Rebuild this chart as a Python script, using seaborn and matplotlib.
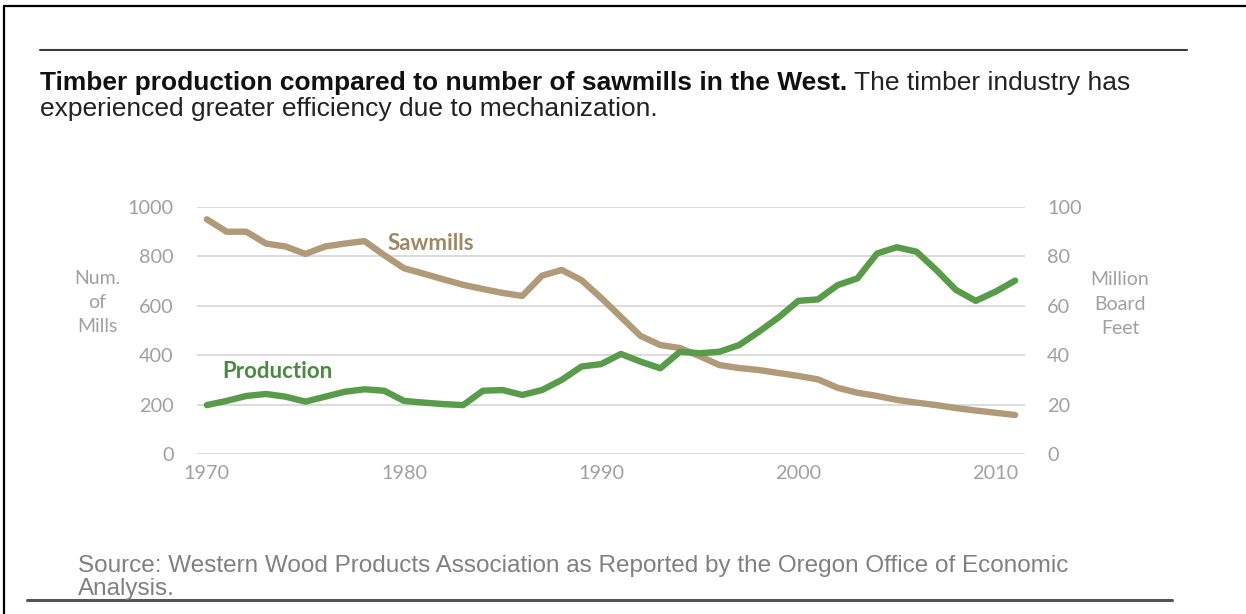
import matplotlib
matplotlib.use("Agg")
import matplotlib.pyplot as plt
from matplotlib.lines import Line2D
import pandas as pd
import seaborn as sns

# ---- data -------------------------------------------------------------
years = list(range(1970, 2012))
sawmills = [950, 900, 900, 852, 840, 810, 840, 852, 862, 805,
            752, 730, 707, 685, 668, 652, 640, 722, 745, 704,
            632, 555, 478, 441, 429, 396, 360, 348, 340, 328,
            316, 302, 268, 248, 235, 219, 208, 198, 186, 176,
            167, 158]
production = [19.8, 21.5, 23.5, 24.3, 23.2, 21.2, 23.2, 25.2, 26.2, 25.6,
              21.5, 20.8, 20.2, 19.8, 25.6, 25.9, 23.9, 25.9, 30.0, 35.4,
              36.4, 40.5, 37.4, 34.7, 41.4, 40.8, 41.4, 44.1, 49.5, 55.3,
              62.0, 62.6, 68.4, 71.1, 81.2, 83.7, 81.9, 74.5, 66.4, 62.0,
              65.7, 70.2]
left_ticks = [0, 200, 400, 600, 800, 1000]
right_ticks = [0, 20, 40, 60, 80, 100]
year_ticks = [1970, 1980, 1990, 2000, 2010]

df = pd.DataFrame({"year": years, "sawmills": sawmills, "production": production})

# ---- style ------------------------------------------------------------
sns.set_theme(style="white")
plt.rcParams["font.family"] = ["Lato", "DejaVu Sans"]

SAW = "#b09a78"
SAW_TXT = "#9e8866"
PROD = "#589c49"
PROD_TXT = "#4a8a40"
TICK = "#a0a0a0"
GRID = "#dcdcdc"

W, H = 1246, 614
fig = plt.figure(figsize=(W / 100, H / 100), dpi=100)
fig.patch.set_facecolor("white")


def fx(px):
    return px / W


def fy(py):
    return 1 - py / H


ax_l, ax_r, ax_t, ax_b = 197, 1025, 207, 454
ax = fig.add_axes([fx(ax_l), fy(ax_b), fx(ax_r - ax_l), (ax_b - ax_t) / H])
ax2 = ax.twinx()

sns.lineplot(data=df, x="year", y="sawmills", ax=ax, color=SAW, lw=4.6,
             solid_capstyle="round", solid_joinstyle="round", zorder=3)
sns.lineplot(data=df, x="year", y="production", ax=ax2, color=PROD, lw=4.6,
             solid_capstyle="round", solid_joinstyle="round", zorder=3)

ax.set_xlim(1969.5, 2011.5)
ax.set_ylim(0, 1000)
ax2.set_ylim(0, 100)
ax.set_xticks(year_ticks)
ax.set_yticks(left_ticks)
ax2.set_yticks(right_ticks)
ax.set_xticklabels([str(y) for y in year_ticks])
ax.set_yticklabels([str(v) for v in left_ticks])
ax2.set_yticklabels([str(v) for v in right_ticks])

for a in (ax, ax2):
    a.set_xlabel("")
    a.set_ylabel("")
    for s in a.spines.values():
        s.set_visible(False)
    a.patch.set_alpha(0)
    a.tick_params(length=0, labelsize=14.3, labelcolor=TICK)
ax.tick_params(axis="y", pad=17)
ax.tick_params(axis="x", pad=8)
ax2.tick_params(axis="y", pad=16)
ax.yaxis.grid(True, color=GRID, lw=1.4)
ax.set_axisbelow(True)
ax2.grid(False)

# series labels and axis titles
ax.text(1979.15, 826, "Sawmills", color=SAW_TXT, fontsize=16, fontweight="bold",
        ha="left", va="baseline")
ax2.text(1970.77, 30.8, "Production", color=PROD_TXT, fontsize=16, fontweight="bold",
         ha="left", va="baseline")
fig.text(fx(97), fy(303), "Num.\nof\nMills", color=TICK, fontsize=14,
         ha="center", va="center", linespacing=1.5)
fig.text(fx(1120), fy(304), "Million\nBoard\nFeet", color=TICK, fontsize=14,
         ha="center", va="center", linespacing=1.55)

# heading
arial = ["Liberation Sans", "DejaVu Sans"]
HEAD = 19.0
t1 = fig.text(fx(40), fy(90), "Timber production compared to number of sawmills in the West.",
              family=arial, fontsize=HEAD, fontweight="bold", color="#111111",
              ha="left", va="baseline")
fig.canvas.draw()
bb = t1.get_window_extent()
fig.text(bb.x1 / W + fx(7), fy(90), "The timber industry has",
         family=arial, fontsize=HEAD, color="#222222", ha="left", va="baseline")
fig.text(fx(40), fy(116), "experienced greater efficiency due to mechanization.",
         family=arial, fontsize=HEAD, color="#222222", ha="left", va="baseline")

# source note
SRC = 17.5
fig.text(fx(78), fy(572), "Source: Western Wood Products Association as Reported by the Oregon Office of Economic",
         family=arial, fontsize=SRC, color="#808080", ha="left", va="baseline")
fig.text(fx(78), fy(595), "Analysis.",
         family=arial, fontsize=SRC, color="#808080", ha="left", va="baseline")

# frame and rules
fig.add_artist(Line2D([fx(4), fx(4)], [fy(6), 0], transform=fig.transFigure,
                      color="black", lw=1.6))
fig.add_artist(Line2D([fx(4), 1], [fy(6), fy(6)], transform=fig.transFigure,
                      color="black", lw=1.6))
fig.add_artist(Line2D([fx(40), fx(1187)], [fy(50), fy(50)], transform=fig.transFigure,
                      color="#3a3a3a", lw=1.5))
fig.add_artist(Line2D([fx(27), fx(1172)], [fy(600), fy(600)], transform=fig.transFigure,
                      color="#555555", lw=2.2))

fig.savefig("out.png", dpi=100, facecolor="white")
